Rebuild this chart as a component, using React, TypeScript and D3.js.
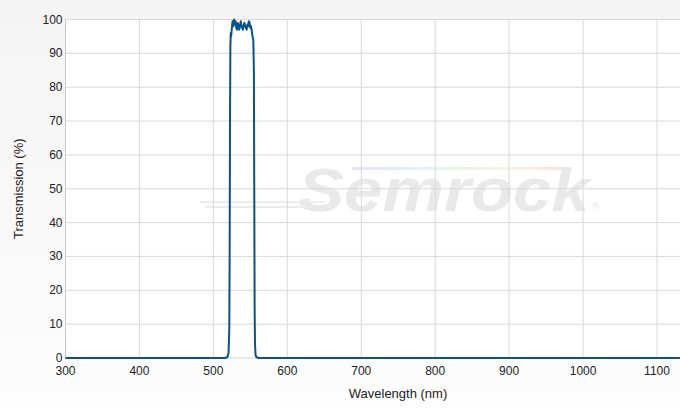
import * as d3 from 'd3'
import React from 'react'

// transmission curve (nm, %)
const wavelengths = [300, 516, 519, 520.5, 521.5, 522, 522.5, 523, 523.5, 524, 525, 526, 527, 528, 529, 530, 531, 532, 533, 534, 535, 536, 537, 538, 539, 540, 541, 542, 543, 544, 545, 546, 547, 548, 549, 550, 551, 552, 553, 554, 554.8, 555.3, 555.8, 556.3, 557, 558, 561, 1131]
const transmission = [0, 0, 0.3, 1.5, 8, 30, 70, 92, 96, 95, 97.5, 99.5, 98, 100, 98.5, 99.5, 97.5, 97, 99, 98.5, 97, 98, 99.5, 98, 97.5, 97, 98.5, 99, 98, 97.5, 97, 98.5, 98, 99.5, 99, 97.5, 98, 96.5, 95, 94, 85, 50, 15, 4, 1, 0.3, 0, 0]

const xTicks = [300, 400, 500, 600, 700, 800, 900, 1000, 1100]
const yTicks = [0, 10, 20, 30, 40, 50, 60, 70, 80, 90, 100]

const W = 680, H = 409
const left = 65.5, right = 680, top = 19.5, bottom = 358

export default function App() {
  const
    x = d3.scaleLinear().domain([300, 1100]).range([left, 657]),
    y = d3.scaleLinear().domain([0, 100]).range([bottom, top]),
    pts = wavelengths.map((w, i) => [w, transmission[i]] as [number, number]),
    line = d3.line<[number, number]>().x(d => x(d[0])).y(d => y(d[1]))(pts) as string,
    font = 'Liberation Sans, Arial, sans-serif'

  return (
    <svg width={W} height={H} style={{ position: 'absolute', left: 0, top: 0 }} fontFamily={font}>
      <defs>
        <linearGradient id='bg' x1='0' y1='0' x2='0' y2='1'>
          <stop offset='0' stopColor='#f4f4f4' />
          <stop offset='1' stopColor='#fdfdfd' />
        </linearGradient>
        <linearGradient id='rainbow' x1='0' y1='0' x2='1' y2='0'>
          <stop offset='0' stopColor='#e4e4f6' />
          <stop offset='0.3' stopColor='#e0f2fa' />
          <stop offset='0.5' stopColor='#e6f6e0' />
          <stop offset='0.7' stopColor='#f8f6dc' />
          <stop offset='1' stopColor='#fbe0e0' />
        </linearGradient>
      </defs>
      <rect width={W} height={H} fill='url(#bg)' />
      <rect x={left} y={top} width={right - left} height={bottom - top} fill='#fff' />

      {/* watermark */}
      <g>
        <rect x={352} y={167} width={218} height={3} fill='url(#rainbow)' />
        <rect x={200} y={201} width={125} height={2} fill='#ececec' />
        <rect x={205} y={206} width={115} height={2} fill='#ececec' />
        <text x={298} y={211} fontSize={62} fontWeight='bold' fontStyle='italic' fill='#e9e9e9' textLength={292} lengthAdjust='spacingAndGlyphs'>Semrock</text>
        <text x={592} y={209} fontSize={9} fill='#e4e4e4'>®</text>
      </g>

      {yTicks.map(t => (
        <line key={'gy' + t} x1={left} x2={right} y1={y(t)} y2={y(t)} stroke='#d9d9d9' />
      ))}
      {xTicks.map(t => (
        <line key={'gx' + t} x1={x(t)} x2={x(t)} y1={top} y2={bottom} stroke='#d9d9d9' />
      ))}
      <line x1={left} x2={left} y1={top} y2={bottom} stroke='#c8c8c8' />

      {yTicks.map(t => (
        <text key={'ly' + t} x={left - 3} y={y(t) + 4} fontSize={12} textAnchor='end' fill='#222'>{t}</text>
      ))}
      {xTicks.map(t => (
        <text key={'lx' + t} x={x(t)} y={bottom + 17} fontSize={12} textAnchor='middle' fill='#222'>{t}</text>
      ))}

      <path d={line} fill='none' stroke='#0b5387' strokeWidth={2} strokeLinejoin='round' />

      <text x={398} y={398} fontSize={13} textAnchor='middle' fill='#222'>Wavelength (nm)</text>
      <text transform={`translate(23, ${(top + bottom) / 2}) rotate(-90)`} fontSize={13} textAnchor='middle' fill='#222'>Transmission (%)</text>
    </svg>
  )
}
